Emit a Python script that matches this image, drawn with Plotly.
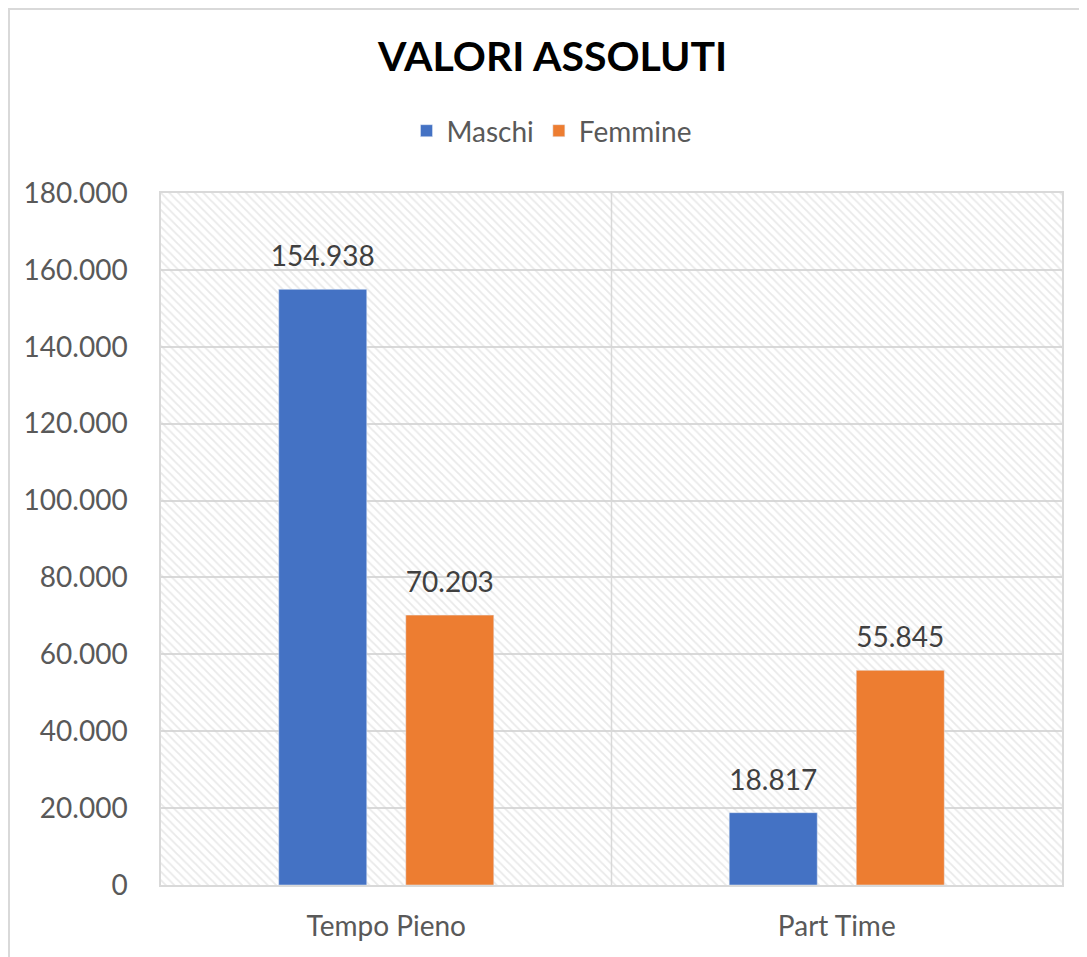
import plotly.graph_objects as go

categorie = ["Tempo Pieno", "Part Time"]
maschi = [154938, 18817]
femmine = [70203, 55845]
y_ticks = [0, 20000, 40000, 60000, 80000, 100000, 120000, 140000, 160000, 180000]

BLU = "#4472C4"
ARANCIO = "#ED7D31"
FONT = "Lato"
GRIGIO = "#D9D9D9"

# il body della pagina ha 8px di margine: si compensa nei margini del grafico
W, H = 1087, 957
ML, MR, MT, MB = 153, 33, 185, 80
PW, PH = W - ML - MR, H - MT - MB

fig = go.Figure()

# sfondo a righe diagonali (come il riempimento a trama di Excel)
fig.add_trace(go.Bar(
    x=[0.5], y=[180000], width=[1],
    marker=dict(color="rgba(0,0,0,0)", line=dict(width=0),
                pattern=dict(shape="\\", fgcolor="#D4D4D4", bgcolor="rgba(0,0,0,0)",
                             size=6, solidity=0.3)),
    hoverinfo="skip", showlegend=False, xaxis="x", yaxis="y",
))

for nome, valori, colore in [("Maschi", maschi, BLU), ("Femmine", femmine, ARANCIO)]:
    fig.add_trace(go.Bar(
        name=nome, x=categorie, y=valori, marker_color=colore,
        offsetgroup=nome, xaxis="x2", yaxis="y2",
    ))
    # etichette dati
    fig.add_trace(go.Scatter(
        x=categorie, y=valori, mode="markers+text", offsetgroup=nome,
        text=[f"{v:,}".replace(",", ".") for v in valori],
        textposition="top center",
        textfont=dict(family=FONT, size=28, color="#404040"),
        marker=dict(size=24, color="rgba(0,0,0,0)"),
        cliponaxis=False, showlegend=False, hoverinfo="skip",
        xaxis="x2", yaxis="y2",
    ))

fig.update_layout(
    width=W, height=H,
    separators=",.",
    barmode="group", bargap=0.436, bargroupgap=0.307,
    scattermode="group", scattergap=0.436,
    paper_bgcolor="white", plot_bgcolor="rgba(0,0,0,0)",
    margin=dict(l=ML, r=MR, t=MT, b=MB),
    title=dict(text="<b>VALORI ASSOLUTI</b>", x=0.501, xanchor="center",
               y=0.949, yanchor="middle",
               font=dict(family=FONT, size=41, color="black")),
    legend=dict(orientation="h", xref="container", x=0.5, xanchor="center",
                yref="container", y=0.8715, yanchor="middle",
                font=dict(family=FONT, size=28, color="#595959"),
                itemclick=False),
    xaxis=dict(range=[0, 1], showticklabels=False, showgrid=False, zeroline=False,
               showline=True, mirror=True, linecolor=GRIGIO, linewidth=1.5),
    yaxis=dict(range=[0, 180000], tickvals=y_ticks, tickformat=",",
               showgrid=True, gridcolor=GRIGIO, gridwidth=1.5, zeroline=False,
               showline=True, mirror=True, linecolor=GRIGIO, linewidth=1.5,
               tickfont=dict(family=FONT, size=28, color="#595959"),
               ticklabelstandoff=26),
    xaxis2=dict(overlaying="x", type="category", showgrid=False, zeroline=False,
                showline=False, ticks="",
                tickfont=dict(family=FONT, size=28, color="#595959"),
                ticklabelstandoff=22),
    yaxis2=dict(overlaying="y", range=[0, 180000], showgrid=False, zeroline=False,
                showticklabels=False, showline=False),
    shapes=[
        dict(type="line", xref="x", yref="y", x0=0.5, x1=0.5, y0=0, y1=180000,
             line=dict(color=GRIGIO, width=1.5), layer="below"),
        dict(type="rect", xref="paper", yref="paper",
             x0=(1 - ML) / PW, x1=(W - 2 - ML) / PW,
             y0=(PH - (H - 2 - MT)) / PH, y1=(PH + MT - 1) / PH,
             line=dict(color=GRIGIO, width=2), fillcolor="rgba(0,0,0,0)", layer="below"),
    ],
)

fig.write_html("out.html")
